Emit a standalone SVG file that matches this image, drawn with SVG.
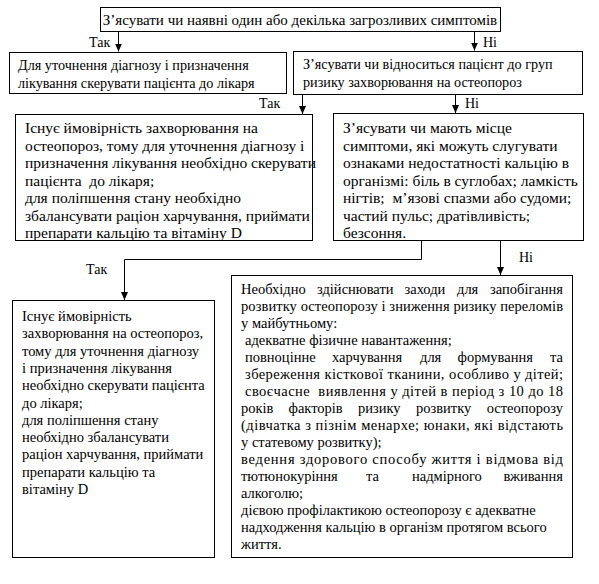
<svg xmlns="http://www.w3.org/2000/svg" width="599" height="584" viewBox="0 0 599 584">
<style>
rect.box{fill:#fff;stroke:#000;stroke-width:1}
text{font-family:"Liberation Serif","Times New Roman",serif;font-size:14px;fill:#000}
.t1 text{font-size:15px}
.t2 text{font-size:14.2px}
.big text{font-size:15.5px}
.mid text{font-size:14.5px}
.c{stroke:#000;stroke-width:1;fill:none}
</style>
<defs>
<marker id="a" markerUnits="userSpaceOnUse" markerWidth="8" markerHeight="9" refX="8" refY="4" orient="auto" viewBox="0 0 8 8">
<path d="M0,0.5 L8,4 L0,7.5 Z" fill="#000"/>
</marker>
</defs>
<rect width="599" height="584" fill="#fff"/>
<g id="connectors">
<line class="c" x1="118.5" y1="32" x2="118.5" y2="51.5" marker-end="url(#a)"/>
<line class="c" x1="474.5" y1="32" x2="474.5" y2="50.5" marker-end="url(#a)"/>
<line class="c" x1="302.5" y1="94" x2="302.5" y2="114" marker-end="url(#a)"/>
<line class="c" x1="455.5" y1="94" x2="455.5" y2="113" marker-end="url(#a)"/>
<polyline class="c" points="421.5,240 421.5,259.5 124.5,259.5 124.5,300" marker-end="url(#a)"/>
<line class="c" x1="500.5" y1="240" x2="500.5" y2="275" marker-end="url(#a)"/>
<text x="89" y="47">Так</text>
<text x="483" y="47">Ні</text>
<text x="259" y="108">Так</text>
<text x="465" y="108">Ні</text>
<text x="86" y="274">Так</text>
<text x="519" y="262">Ні</text>
</g>
<g id="n1" class="t1">
<rect class="box" x="100.5" y="7.5" width="400" height="24"/>
<text x="300" y="24.5" text-anchor="middle">З’ясувати чи наявні один або декілька загрозливих симптомів</text>
</g>
<g id="n2" class="t2">
<rect class="box" x="9.5" y="52.5" width="277" height="41"/>
<text x="18" y="70">Для уточнення діагнозу і призначення</text>
<text x="18" y="88">лікування скерувати пацієнта до лікаря</text>
</g>
<g id="n3" class="t2">
<rect class="box" x="293.5" y="51.5" width="289" height="43"/>
<text x="303" y="69">З’ясувати чи відноситься пацієнт до груп</text>
<text x="303" y="87">ризику захворювання на остеопороз</text>
</g>
<g id="n4" class="big">
<rect class="box" x="15.5" y="114.5" width="297" height="126"/>
<text x="25" y="133">Існує ймовірність захворювання на</text>
<text x="25" y="150.5">остеопороз, тому для уточнення діагнозу і</text>
<text x="25" y="168">призначення лікування необхідно скерувати</text>
<text x="25" y="185.5" xml:space="preserve">пацієнта  до лікаря;</text>
<text x="25" y="203">для поліпшення стану необхідно</text>
<text x="25" y="220.5">збалансувати раціон харчування, приймати</text>
<text x="25" y="238">препарати кальцію та вітаміну D</text>
</g>
<g id="n5" class="big">
<rect class="box" x="333.5" y="113.5" width="250" height="127"/>
<text x="343" y="133">З’ясувати чи мають місце</text>
<text x="343" y="150.5">симптоми, які можуть слугувати</text>
<text x="343" y="168">ознаками недостатності кальцію в</text>
<text x="343" y="185.5">організмі: біль в суглобах; ламкість</text>
<text x="343" y="203" xml:space="preserve">нігтів;  м’язові спазми або судоми;</text>
<text x="343" y="220.5">частий пульс; дратівливість;</text>
<text x="343" y="238">безсоння.</text>
</g>
<g id="n6" class="mid">
<rect class="box" x="12.5" y="300.5" width="202" height="257"/>
<text x="22" y="321">Існує ймовірність</text>
<text x="22" y="338.3">захворювання на остеопороз,</text>
<text x="22" y="355.6">тому для уточнення діагнозу</text>
<text x="22" y="372.9">і призначення лікування</text>
<text x="22" y="390.2">необхідно скерувати пацієнта</text>
<text x="22" y="407.5">до лікаря;</text>
<text x="22" y="424.8">для поліпшення стану</text>
<text x="22" y="442.1">необхідно збалансувати</text>
<text x="22" y="459.4">раціон харчування, приймати</text>
<text x="22" y="476.7">препарати кальцію та</text>
<text x="22" y="494">вітаміну D</text>
</g>
<g id="n7" class="mid">
<rect class="box" x="231.5" y="275.5" width="341" height="282"/>
<text y="294"><tspan x="241">Необхідно</tspan><tspan x="317">здійснювати</tspan><tspan x="404.5">заходи</tspan><tspan x="457">для</tspan></text>
<text x="563" y="294" text-anchor="end">запобігання</text>
<text x="241" y="311" textLength="322" lengthAdjust="spacing">розвитку остеопорозу і зниження ризику переломів</text>
<text x="241" y="328">у майбутньому:</text>
<text x="245" y="345">адекватне фізичне навантаження;</text>
<text y="362"><tspan x="245">повноцінне</tspan><tspan x="332">харчування</tspan><tspan x="420">для</tspan><tspan x="457.5">формування</tspan></text>
<text x="563" y="362" text-anchor="end">та</text>
<text x="245" y="379" textLength="318" lengthAdjust="spacing">збереження кісткової тканини, особливо у дітей;</text>
<text x="245" y="396" textLength="318" lengthAdjust="spacing" xml:space="preserve">своєчасне  виявлення у дітей в період з 10 до 18</text>
<text y="413"><tspan x="241">років</tspan><tspan x="288.5">факторів</tspan><tspan x="358">ризику</tspan><tspan x="416">розвитку</tspan></text>
<text x="563" y="413" text-anchor="end">остеопорозу</text>
<text x="241" y="430" textLength="322" lengthAdjust="spacing">(дівчатка з пізнім менархе; юнаки, які відстають</text>
<text x="241" y="447">у статевому розвитку);</text>
<text x="241" y="464" textLength="322" lengthAdjust="spacing">ведення здорового способу життя і відмова від</text>
<text y="481"><tspan x="241">тютюнокуріння</tspan><tspan x="366">та</tspan><tspan x="412">надмірного</tspan></text>
<text x="563" y="481" text-anchor="end">вживання</text>
<text x="241" y="498">алкоголю;</text>
<text x="241" y="515">дієвою профілактикою остеопорозу є адекватне</text>
<text x="241" y="532">надходження кальцію в організм протягом всього</text>
<text x="241" y="549">життя.</text>
</g>
</svg>
